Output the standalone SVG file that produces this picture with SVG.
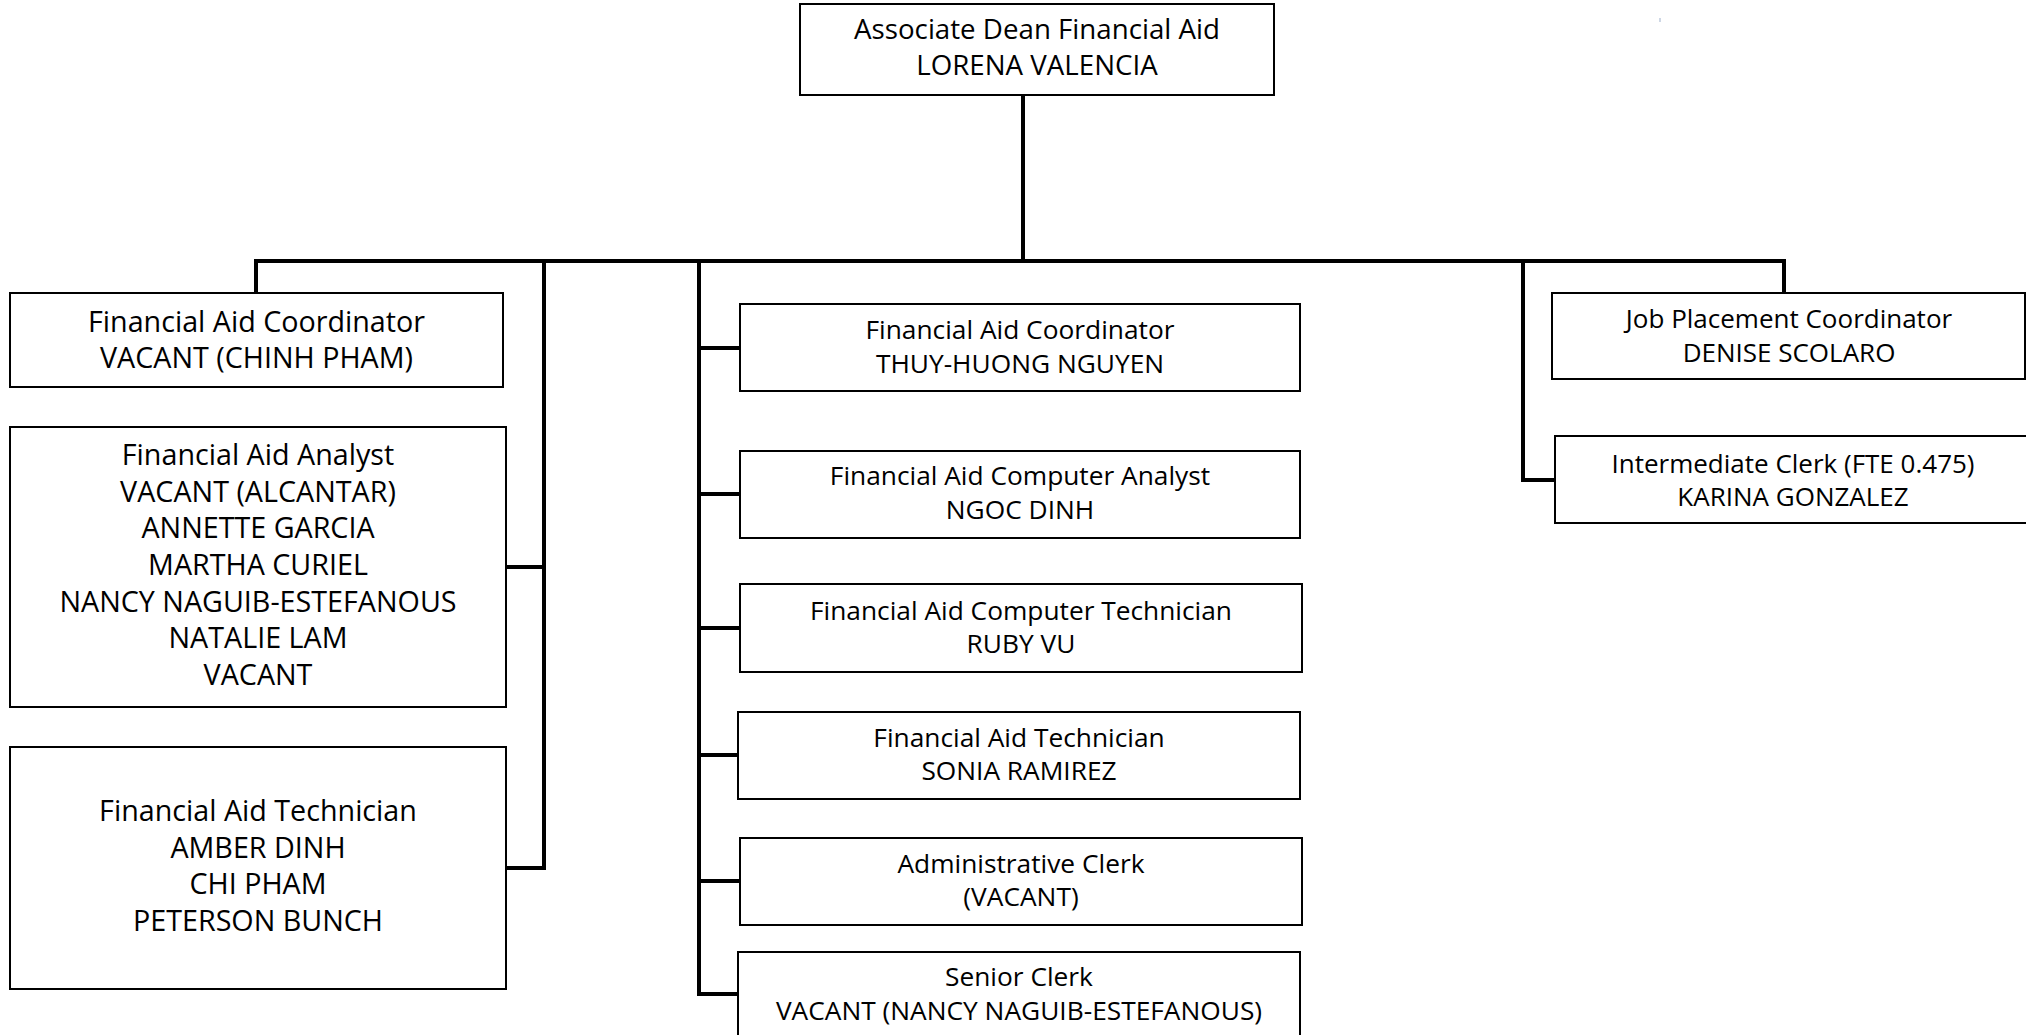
<svg xmlns="http://www.w3.org/2000/svg" width="2026" height="1035" viewBox="0 0 2026 1035">
<style>
.box{fill:#fff;stroke:#000;stroke-width:2}
.t{font-family:"Open Sans","Liberation Sans",sans-serif;fill:#000;text-anchor:middle}
.top{font-size:27.7px}
.lft{font-size:28.7px}
.mid{font-size:26.3px}
.rgt{font-size:26px}
.conn{fill:none;stroke:#000;stroke-width:4;stroke-linejoin:miter;stroke-linecap:square}
</style>
<rect width="2026" height="1035" fill="#fff"/>
<g id="connectors">
<path class="conn" d="M1023,95 V261"/>
<path class="conn" d="M256,293 V261 H1784 V293"/>
<path class="conn" d="M544,261 V868 H506 M544,567 H506"/>
<path class="conn" d="M699,261 V994 H738 M699,348 H740 M699,494 H740 M699,628 H740 M699,755 H738 M699,881 H740"/>
<path class="conn" d="M1523,261 V480 H1555"/>
</g>
<g id="n-dean">
<rect class="box" x="800" y="4" width="474" height="91"/>
<text class="t top" x="1037" y="39">Associate Dean Financial Aid</text>
<text class="t top" x="1037" y="75">LORENA VALENCIA</text>
</g>
<g id="n-fa-coord-left">
<rect class="box" x="10" y="293" width="493" height="94"/>
<text class="t lft" x="256.5" y="332">Financial Aid Coordinator</text>
<text class="t lft" x="256.5" y="368">VACANT (CHINH PHAM)</text>
</g>
<g id="n-fa-analyst">
<rect class="box" x="10" y="427" width="496" height="280"/>
<text class="t lft" x="258" y="465">Financial Aid Analyst</text>
<text class="t lft" x="258" y="502">VACANT (ALCANTAR)</text>
<text class="t lft" x="258" y="538">ANNETTE GARCIA</text>
<text class="t lft" x="258" y="575">MARTHA CURIEL</text>
<text class="t lft" x="258" y="612">NANCY NAGUIB-ESTEFANOUS</text>
<text class="t lft" x="258" y="648">NATALIE LAM</text>
<text class="t lft" x="258" y="685">VACANT</text>
</g>
<g id="n-fa-tech-left">
<rect class="box" x="10" y="747" width="496" height="242"/>
<text class="t lft" x="258" y="821">Financial Aid Technician</text>
<text class="t lft" x="258" y="858">AMBER DINH</text>
<text class="t lft" x="258" y="894">CHI PHAM</text>
<text class="t lft" x="258" y="931">PETERSON BUNCH</text>
</g>
<g id="n-fa-coord-mid">
<rect class="box" x="740" y="304" width="560" height="87"/>
<text class="t mid" x="1020" y="339">Financial Aid Coordinator</text>
<text class="t mid" x="1020" y="373">THUY-HUONG NGUYEN</text>
</g>
<g id="n-comp-analyst">
<rect class="box" x="740" y="451" width="560" height="87"/>
<text class="t mid" x="1020" y="485">Financial Aid Computer Analyst</text>
<text class="t mid" x="1020" y="519">NGOC DINH</text>
</g>
<g id="n-comp-tech">
<rect class="box" x="740" y="584" width="562" height="88"/>
<text class="t mid" x="1021" y="620">Financial Aid Computer Technician</text>
<text class="t mid" x="1021" y="653">RUBY VU</text>
</g>
<g id="n-fa-tech-mid">
<rect class="box" x="738" y="712" width="562" height="87"/>
<text class="t mid" x="1019" y="747">Financial Aid Technician</text>
<text class="t mid" x="1019" y="780">SONIA RAMIREZ</text>
</g>
<g id="n-admin-clerk">
<rect class="box" x="740" y="838" width="562" height="87"/>
<text class="t mid" x="1021" y="873">Administrative Clerk</text>
<text class="t mid" x="1021" y="906">(VACANT)</text>
</g>
<g id="n-senior-clerk">
<rect class="box" x="738" y="952" width="562" height="100"/>
<text class="t mid" x="1019" y="986">Senior Clerk</text>
<text class="t mid" x="1019" y="1020">VACANT (NANCY NAGUIB-ESTEFANOUS)</text>
</g>
<g id="n-job-placement">
<rect class="box" x="1552" y="293" width="473" height="86"/>
<text class="t rgt" x="1789" y="328">Job Placement Coordinator</text>
<text class="t rgt" x="1789" y="362">DENISE SCOLARO</text>
</g>
<g id="n-int-clerk">
<rect class="box" x="1555" y="436" width="480" height="87"/>
<text class="t rgt" x="1793" y="473">Intermediate Clerk (FTE 0.475)</text>
<text class="t rgt" x="1793" y="506">KARINA GONZALEZ</text>
</g>
<rect x="1659.5" y="18" width="1" height="4" fill="#9db0cc"/>
</svg>
